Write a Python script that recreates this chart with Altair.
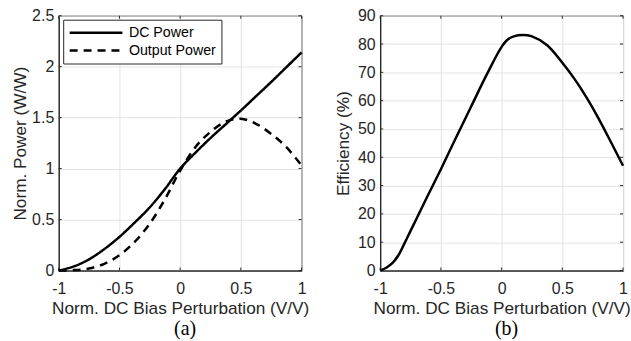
import altair as alt
import pandas as pd

# ---- data ----
x_bias = [-1, -0.875, -0.75, -0.625, -0.5, -0.375, -0.25, -0.125, 0,
          0.125, 0.25, 0.375, 0.5, 0.625, 0.75, 0.875, 1]
dc_power = [0, 0.04, 0.11, 0.21, 0.33, 0.47, 0.62, 0.80, 1.0,
            1.155, 1.30, 1.435, 1.57, 1.71, 1.85, 1.995, 2.14]
out_power = [0, 0.004, 0.02, 0.066, 0.15, 0.28, 0.46, 0.70, 0.98,
             1.21, 1.36, 1.46, 1.49, 1.44, 1.34, 1.21, 1.03]
series_names = ["DC Power", "Output Power"]

eff_x = [-1, -0.95, -0.9, -0.85, -0.8, -0.75, -0.7, -0.625, -0.5, -0.375,
         -0.25, -0.125, 0, 0.05, 0.1, 0.175, 0.25, 0.375, 0.5, 0.6, 0.7,
         0.8, 0.9, 1]
efficiency = [0, 1.0, 2.6, 5.4, 9.6, 14, 18.4, 25, 35.8, 47,
              58, 69, 79, 81.6, 82.7, 83.2, 82.7, 79.6, 73.4, 67.7, 61.1,
              53.6, 45.4, 37]

x_ticks = [-1, -0.5, 0, 0.5, 1]
power_ticks = [0, 0.5, 1, 1.5, 2, 2.5]
eff_ticks = [0, 10, 20, 30, 40, 50, 60, 70, 80, 90]
x_title = "Norm. DC Bias Perturbation (V/V)"
panel_labels = ["(a)", "(b)"]

n = len(x_bias)
power_df = pd.DataFrame({
    "x": x_bias + x_bias,
    "p": dc_power + out_power,
    "series": [series_names[0]] * n + [series_names[1]] * n,
})
eff_df = pd.DataFrame({"x": eff_x, "eff": efficiency})

FONT = "Liberation Sans"
TXT = "#262626"
W, H = 244, 256
TICK = 3
INTERP = "catmull-rom"


def x_axis():
    return alt.Axis(values=x_ticks, title=x_title, labelExpr="datum.value + ''",
                    labelFontSize=16, titleFontSize=17.3, titleFontWeight="normal",
                    labelPadding=10, ticks=False, tickSize=0, labelFlush=False,
                    titleX=W / 2, titleY=43.5, titleBaseline="alphabetic",
                    titleAlign="center")


def y_axis(title, vals, tx):
    return alt.Axis(values=vals, title=title, labelExpr="datum.value + ''",
                    labelFontSize=16, titleFontSize=17.3, titleFontWeight="normal",
                    labelPadding=5, ticks=False, tickSize=0, labelFlush=False,
                    titleX=tx, titleY=H / 2, titleBaseline="middle",
                    titleAlign="center")


def panel_title(t):
    return alt.TitleParams(t, orient="bottom", font="Liberation Serif", fontSize=20,
                           fontWeight="normal", color="black", anchor="middle",
                           frame="group", dx=5, offset=2)


def inner_ticks(yfield, yvals, ydom, yaxis):
    xs = alt.X("x:Q", scale=alt.Scale(domain=[-1, 1], nice=False), axis=x_axis())
    ys = alt.Y(f"{yfield}:Q", scale=alt.Scale(domain=ydom, nice=False), axis=yaxis)
    xdf = pd.DataFrame({"x": x_ticks})
    ydf = pd.DataFrame({yfield: yvals})
    base_x = alt.Chart(xdf).mark_rule(color=TXT, strokeWidth=1)
    base_y = alt.Chart(ydf).mark_rule(color=TXT, strokeWidth=1)
    return [
        base_x.encode(x=xs, y=alt.value(H), y2=alt.value(H - TICK)),
        base_x.encode(x=xs, y=alt.value(0), y2=alt.value(TICK)),
        base_y.encode(y=ys, x=alt.value(0), x2=alt.value(TICK)),
        base_y.encode(y=ys, x=alt.value(W), x2=alt.value(W - TICK)),
    ]


p_axis = y_axis("Norm. Power (W/W)", power_ticks, -38.5)
e_axis = y_axis("Efficiency (%)", eff_ticks, -36.5)

left_line = alt.Chart(power_df).mark_line(
    color="black", strokeWidth=2.5, interpolate=INTERP
).encode(
    x=alt.X("x:Q", scale=alt.Scale(domain=[-1, 1], nice=False), axis=x_axis()),
    y=alt.Y("p:Q", scale=alt.Scale(domain=[0, 2.5], nice=False), axis=p_axis),
    strokeDash=alt.StrokeDash(
        "series:N",
        scale=alt.Scale(domain=series_names, range=[[1, 0], [8, 6]]),
        legend=alt.Legend(title=None, orient="none", legendX=4.5, legendY=4,
                          symbolType="stroke", symbolSize=2809,
                          symbolStrokeWidth=2.5, symbolStrokeColor="black",
                          labelFontSize=14.3, labelFont=FONT, labelColor="black",
                          strokeColor="#262626", fillColor="white",
                          padding=5, rowPadding=2, clipHeight=16,
                          labelOffset=5, symbolOffset=0),
    ),
)

right_line = alt.Chart(eff_df).mark_line(
    color="black", strokeWidth=2.5, interpolate=INTERP
).encode(
    x=alt.X("x:Q", scale=alt.Scale(domain=[-1, 1], nice=False), axis=x_axis()),
    y=alt.Y("eff:Q", scale=alt.Scale(domain=[0, 90], nice=False), axis=e_axis),
)

left = alt.layer(
    *inner_ticks("p", power_ticks, [0, 2.5], p_axis), left_line,
    title=panel_title(panel_labels[0]),
).properties(width=W, height=H)

right = alt.layer(
    *inner_ticks("eff", eff_ticks, [0, 90], e_axis), right_line,
    title=panel_title(panel_labels[1]),
).properties(width=W, height=H)

chart = alt.hconcat(left, right, spacing=25).properties(
    padding={"left": 11, "top": 6, "right": 0, "bottom": 0},
    background="white",
).configure_view(
    stroke="black", strokeWidth=1
).configure_axis(
    labelFont=FONT, titleFont=FONT, labelColor=TXT, titleColor=TXT,
    gridColor="#e3e3e3", gridWidth=1, domainColor="black", domainWidth=1,
)

chart.save("out.html", embed_options={"renderer": "svg", "actions": False})
